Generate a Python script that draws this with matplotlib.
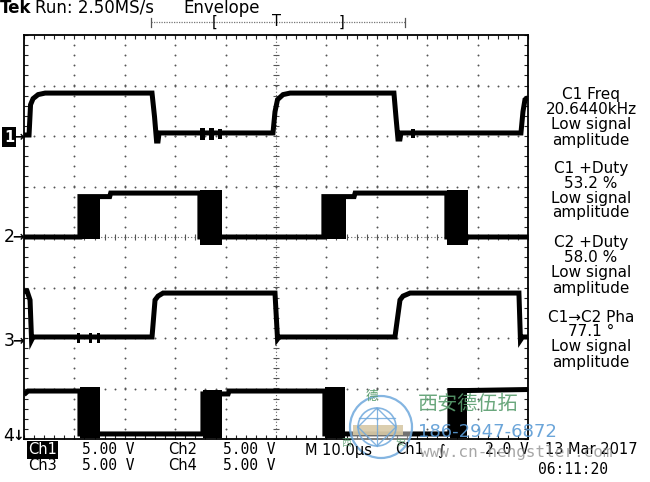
# Tek scope screen: 4 channels in envelope mode, 10 us/div, 5 V/div
import numpy as np
import matplotlib.pyplot as plt
from matplotlib import transforms
from matplotlib.patches import Ellipse, Rectangle
from matplotlib.lines import Line2D
from matplotlib.ticker import MultipleLocator

plt.rcParams['font.family'] = ['DejaVu Sans', 'Noto Sans CJK SC']

# horizontal / vertical scale
T_DIV = 10.0   # us per division
V_DIV = 5.0    # volts per division

# ground marker position of every channel (divisions from centre)
grounds = {1: 1.98, 2: 0.0, 3: -2.06, 4: -3.94}
ground_marks = {1: '→', 2: '→', 3: '→', 4: '↓'}

# traces, time in us and level in volts
ch1_t = [0, 1.0, 1.3, 1.8, 2.8, 4.2, 25.4, 25.9, 26.3, 26.6, 26.8, 49.4, 49.8,
         50.3, 51.4, 52.8, 73.4, 73.8, 74.2, 74.6, 74.8, 98.6, 99.0, 99.4, 100]
ch1_v = [0.2, 0.2, 3.2, 3.8, 4.2, 4.35, 4.35, 2.0, -0.4, -0.4, 0.4, 0.4, 2.5,
         3.7, 4.2, 4.35, 4.35, 2.0, -0.2, -0.2, 0.4, 0.4, 2.5, 3.7, 3.9]
ch1_env = [(34.9, 36.0, -0.3, 0.9), (36.8, 37.6, -0.3, 0.9), (38.4, 39.2, -0.2, 0.8),
           (76.8, 77.5, -0.1, 0.8)]

ch2_t = [0, 11.1, 11.1, 15.1, 17.0, 17.2, 34.9, 34.9, 39.3, 59.5, 59.5, 63.9,
         65.5, 65.7, 83.9, 83.9, 88.1, 100]
ch2_v = [0, 0, 4.0, 4.0, 4.0, 4.35, 4.35, 0, 0, 0, 4.0, 4.0,
         4.0, 4.35, 4.35, 0, 0, 0]
ch2_env = [(11.1, 15.1, -0.15, 4.15), (34.9, 39.3, -0.8, 4.65),
           (59.5, 63.9, -0.15, 4.15), (83.9, 88.1, -0.8, 4.65)]

ch3_t = [0, 0.6, 1.2, 1.5, 1.8, 25.4, 26.0, 26.6, 27.6, 49.8, 50.3, 50.6,
         73.6, 74.6, 75.2, 76.6, 98.2, 98.5, 98.9, 100]
ch3_v = [4.95, 4.95, 4.06, 0.1, 0.4, 0.4, 4.06, 4.45, 4.75, 4.75, 0.2, 0.4,
         0.4, 4.06, 4.45, 4.75, 4.75, 0.1, 0.4, 0.4]
ch3_env = [(10.5, 11.2, -0.2, 0.8), (12.8, 13.4, -0.2, 0.8), (14.5, 15.1, -0.2, 0.8)]

ch4_t = [0, 0.8, 11.1, 11.1, 15.1, 35.5, 35.5, 39.3, 40.5, 40.7, 59.7, 59.7,
         63.7, 84.5, 84.5, 87.9, 100]
ch4_v = [4.1, 4.45, 4.45, 0.2, 0.2, 0.2, 4.16, 4.16, 4.16, 4.45, 4.45, 0.2,
         0.2, 0.2, 4.5, 4.5, 4.6]
ch4_env = [(11.1, 15.1, -0.2, 4.85), (35.5, 39.3, -0.2, 4.6),
           (59.7, 63.7, -0.2, 4.85), (84.5, 87.9, -0.2, 4.5)]

traces = {1: (ch1_t, ch1_v, ch1_env), 2: (ch2_t, ch2_v, ch2_env),
          3: (ch3_t, ch3_v, ch3_env), 4: (ch4_t, ch4_v, ch4_env)}

# measurement panel on the right
meas_lines = ['C1 Freq', '20.6440kHz', 'Low signal', 'amplitude',
              'C1 +Duty', '53.2 %', 'Low signal', 'amplitude',
              'C2 +Duty', '58.0 %', 'Low signal', 'amplitude',
              'C1→C2 Pha', '77.1 °', 'Low signal', 'amplitude']
meas_y = [95, 110, 125, 140, 168, 183, 198, 213, 243, 258, 273, 288, 317, 332, 347, 362]

W, H = 650, 482
def fx(px):
    return px / W
def fy(py):
    return 1 - py / H

fig = plt.figure(figsize=(6.5, 4.82), dpi=100)
ax = fig.add_axes([fx(24), fy(439), fx(528) - fx(24), fy(35) - fy(439)])
ax.set_xlim(0, 10 * T_DIV)
ax.set_ylim(-4, 4)
ax.xaxis.set_major_locator(MultipleLocator(T_DIV))
ax.xaxis.set_minor_locator(MultipleLocator(T_DIV / 5))
ax.yaxis.set_major_locator(MultipleLocator(1))
ax.yaxis.set_minor_locator(MultipleLocator(0.2))
ax.tick_params(which='both', direction='in', length=3, width=0.8, color='#222',
               top=True, right=True, labelbottom=False, labelleft=False)
for sp in ax.spines.values():
    sp.set_linewidth(1.3)

# graticule dots
ys = np.arange(-4, 4.001, 0.2)
xs = np.arange(0, 100.001, 2)
for gx in np.arange(1, 10) * T_DIV:
    if gx == 5 * T_DIV:
        continue
    ax.plot(np.full_like(ys, gx), ys, ls='none', marker='o', ms=1.4, mec='none', color='#555')
for gy in range(-3, 4):
    if gy == 0:
        continue
    ax.plot(xs, np.full_like(xs, gy), ls='none', marker='o', ms=1.4, mec='none', color='#555')
# centre cross with small ticks
ax.plot([50, 50], [-4, 4], color='#666', lw=0.8, ls=(0, (1, 2)))
ax.plot([0, 100], [0, 0], color='#666', lw=0.8, ls=(0, (1, 2)))
ax.plot(np.full_like(ys, 50), ys, ls='none', marker='_', ms=5, mew=0.8, color='#555')
ax.plot(xs, np.zeros_like(xs), ls='none', marker='|', ms=5, mew=0.8, color='#555')

# waveforms
for ch, (t, v, env) in traces.items():
    g = grounds[ch]
    ax.plot(t, g + np.array(v) / V_DIV, color='k', lw=3.6,
            solid_joinstyle='miter', solid_capstyle='butt', zorder=3)
    for t0, t1, lo, hi in env:
        ax.bar(t0, (hi - lo) / V_DIV, width=t1 - t0, bottom=g + lo / V_DIV,
               align='edge', color='k', lw=0, zorder=3)

# ground markers
trans = transforms.blended_transform_factory(fig.transFigure, ax.transData)
for ch, g in grounds.items():
    if ch == 1:
        ax.text(fx(9), g, '1', transform=trans, ha='center', va='center', fontsize=10.5,
                fontweight='bold', color='white',
                bbox=dict(boxstyle='square,pad=0.15', fc='black', ec='none'))
    else:
        ax.text(fx(9), g, str(ch), transform=trans, ha='center', va='center',
                fontsize=12.5, color='black')
    ax.text(fx(23.5), g, ground_marks[ch], transform=trans, ha='right', va='center',
            fontsize=10, fontweight='bold', color='black')

# header
fig.text(fx(0), fy(8), 'Tek', ha='left', va='center', fontsize=12, fontweight='bold')
fig.text(fx(35), fy(8), 'Run: 2.50MS/s', ha='left', va='center', fontsize=12)
fig.text(fx(183), fy(8), 'Envelope', ha='left', va='center', fontsize=12)
fig.add_artist(Line2D([fx(151), fx(405)], [fy(22), fy(22)], color='#777', lw=0.9,
                      ls=(0, (1, 1))))
for px in (151, 405):
    fig.add_artist(Line2D([fx(px), fx(px)], [fy(18), fy(27)], color='#555', lw=0.9))
for px, s in ((215, '['), (277, 'T'), (341, ']')):
    fig.text(fx(px), fy(22), s, ha='center', va='center', fontsize=10.5)

# measurement panel
for s, y in zip(meas_lines, meas_y):
    fig.text(fx(591), fy(y), s, ha='center', va='center', fontsize=11)

# bottom status lines
fig.text(fx(28), fy(450), 'Ch1', ha='left', va='center', fontsize=10.5, color='white',
         bbox=dict(boxstyle='square,pad=0.1', fc='black', ec='none'))
bottom = [(82, 450, '5.00 V'), (168, 450, 'Ch2'), (223, 450, '5.00 V'),
          (28, 465, 'Ch3'), (82, 465, '5.00 V'), (168, 465, 'Ch4'), (223, 465, '5.00 V'),
          (305, 450, 'M 10.0µs'), (395, 450, 'Ch1'), (437, 450, '∫'), (485, 450, '2.0 V'),
          (538, 470, '06:11:20')]
for x, y, s in bottom:
    fig.text(fx(x), fy(y), s, ha='left', va='center', fontsize=10.5,
             family='DejaVu Sans Mono' if 'V' in s or ':' in s else 'DejaVu Sans')
fig.text(fx(638), fy(450), '13 Mar 2017', ha='right', va='center', fontsize=10.5)

# watermark (logo + contact text), sizes in pixels
def ring(cx, cy, r, **kw):
    return Ellipse((fx(cx), fy(cy)), 2 * r / W, 2 * r / H, transform=fig.transFigure, **kw)

fig.add_artist(ring(381, 427, 31, fc='white', ec='none', alpha=0.45))
fig.add_artist(Rectangle((fx(353), fy(435)), 50 / W, 10 / H, transform=fig.transFigure,
                         fc='#d8c9a6', ec='none', alpha=0.9))
fig.add_artist(ring(381, 427, 31, fill=False, ec='#6fa8dc', lw=1.6, alpha=0.85))
fig.add_artist(ring(377, 427, 19, fill=False, ec='#6fa8dc', lw=1.2, alpha=0.85))
fig.add_artist(Line2D([fx(358), fx(377), fx(396), fx(377), fx(358)],
                      [fy(427), fy(408), fy(427), fy(446), fy(427)],
                      color='#6fa8dc', lw=1.0, alpha=0.85))
fig.add_artist(Line2D([fx(359), fx(395)], [fy(418), fy(418)], color='#6fa8dc', lw=0.9,
                      alpha=0.85))
fig.add_artist(Line2D([fx(377), fx(377)], [fy(408), fy(446)], color='#6fa8dc', lw=0.9,
                      alpha=0.85))
fig.text(fx(372), fy(396), '德', ha='center', va='center', fontsize=9, color='#5a9e6f',
         family='Noto Sans CJK SC')
fig.text(fx(346), fy(443), '西', ha='center', va='center', fontsize=7, color='#5a9e6f',
         family='Noto Sans CJK SC', alpha=0.8)
fig.text(fx(400), fy(443), '安', ha='center', va='center', fontsize=7, color='#5a9e6f',
         family='Noto Sans CJK SC', alpha=0.8)
fig.text(fx(418), fy(405), '西安德伍拓', ha='left', va='center', fontsize=14.5,
         color='#5a9e6f', family='Noto Sans CJK SC', alpha=0.9)
fig.text(fx(418), fy(432), '186-2947-6872', ha='left', va='center', fontsize=13,
         color='#5b9bd5', alpha=0.9)
fig.text(fx(420), fy(452), 'www.cn-hengstler.com', ha='left', va='center', fontsize=11.5,
         color='#8a8a8a', family='DejaVu Sans Mono', alpha=0.75)

fig.savefig('out.png', dpi=100)
